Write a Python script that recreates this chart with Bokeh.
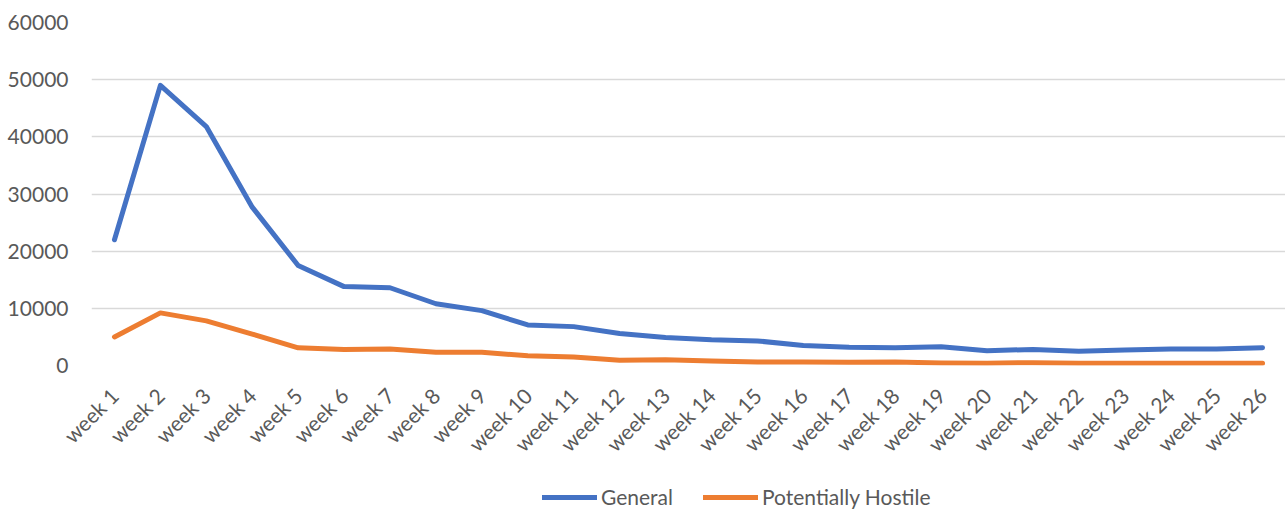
import math
from bokeh.plotting import figure
from bokeh.layouts import column
from bokeh.models import (FactorRange, Range1d, Legend, LegendItem, FixedTicker,
                          ColumnDataSource)
from bokeh.embed import file_html
from bokeh.resources import INLINE

weeks = [f"week {i}" for i in range(1, 27)]
general = [22000, 49000, 41800, 27700, 17500, 13800, 13600, 10800, 9600, 7100,
           6800, 5600, 4900, 4500, 4300, 3500, 3200, 3100, 3300, 2600,
           2800, 2500, 2700, 2900, 2900, 3100]
hostile = [5000, 9200, 7800, 5500, 3100, 2800, 2900, 2300, 2300, 1700,
           1500, 900, 1000, 800, 600, 600, 550, 600, 450, 400,
           500, 400, 400, 400, 400, 400]
y_ticks = [0, 10000, 20000, 30000, 40000, 50000, 60000]

FONT = "Lato"
TEXT = "#595959"
BLUE = "#4472C4"
ORANGE = "#ED7D31"

src = ColumnDataSource(dict(week=weeks, general=general, hostile=hostile))
x_range = FactorRange(*weeks, range_padding=0)

# ---- main chart -------------------------------------------------------------
p = figure(
    width=1285, height=480,
    x_range=x_range,
    y_range=Range1d(0, 60000),
    output_backend="svg", toolbar_location=None,
    min_border_left=91, min_border_right=0, min_border_top=22, min_border_bottom=115,
)
p.outline_line_color = None
p.background_fill_color = "white"
p.border_fill_color = "white"

p.xgrid.grid_line_color = None
p.ygrid.grid_line_color = "#D9D9D9"
p.ygrid.grid_line_width = 1.3

p.yaxis.ticker = FixedTicker(ticks=y_ticks)
p.yaxis.axis_line_color = None
p.yaxis.major_tick_line_color = None
p.yaxis.minor_tick_line_color = None
p.yaxis.major_label_standoff = 17
p.yaxis.major_label_text_font = FONT
p.yaxis.major_label_text_font_size = "21px"
p.yaxis.major_label_text_color = TEXT

p.xaxis.axis_line_color = None
p.xaxis.major_tick_line_color = None
p.xaxis.minor_tick_line_color = None
p.xaxis.major_label_orientation = math.pi / 4
p.xaxis.major_label_standoff = 20
p.xaxis.major_label_text_font = FONT
p.xaxis.major_label_text_font_size = "21px"
p.xaxis.major_label_text_color = TEXT

line_style = dict(line_width=5, line_cap="round", line_join="round")
p.line("week", "general", source=src, line_color=BLUE, **line_style)
p.line("week", "hostile", source=src, line_color=ORANGE, **line_style)

# ---- legend strip -----------------------------------------------------------
# A thin figure whose y range lies below the data, so its series stay out of
# view and only serve as legend entries.
leg = figure(
    width=1285, height=31,
    x_range=x_range, y_range=Range1d(-2, -1),
    x_axis_type=None, y_axis_type=None,
    output_backend="svg", toolbar_location=None,
    min_border_left=0, min_border_right=0, min_border_top=0, min_border_bottom=0,
)
leg.outline_line_color = None
leg.background_fill_color = "white"
leg.border_fill_color = "white"

g1 = leg.line("week", "general", source=src, line_color=BLUE, **line_style)
g2 = leg.line("week", "hostile", source=src, line_color=ORANGE, **line_style)

legend = Legend(
    items=[LegendItem(label="General", renderers=[g1]),
           LegendItem(label="Potentially Hostile", renderers=[g2])],
    orientation="horizontal",
    location=(451, 2),
    border_line_color=None,
    background_fill_alpha=0,
    label_text_font=FONT,
    label_text_font_size="21px",
    label_text_color=TEXT,
    glyph_width=55,
    glyph_height=20,
    label_height=20,
    label_standoff=4,
    spacing=30,
    padding=3,
    margin=0,
)
leg.add_layout(legend, "center")

layout = column(p, leg, spacing=0)
open("out.html", "w").write(file_html(layout, INLINE))
